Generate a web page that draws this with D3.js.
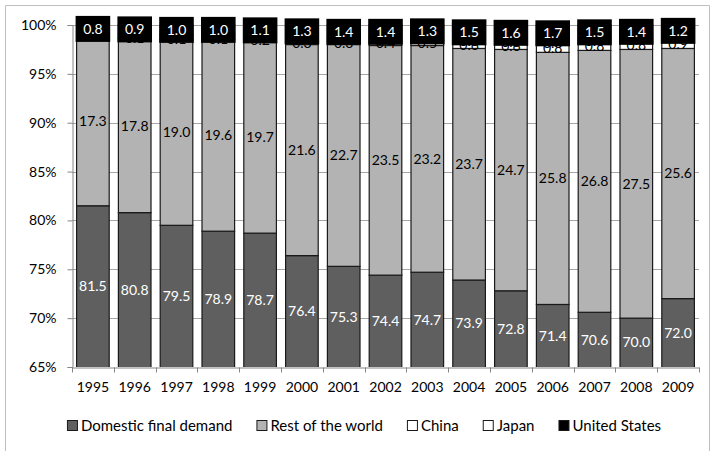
<!DOCTYPE html>
<html>
<head>
<meta charset="utf-8">
<script src="https://cdn.jsdelivr.net/npm/d3@7"></script>
<style>
    body { margin: 0; background: #fff; }
    svg { display: block; font-family: Lato, "Open Sans", sans-serif; }
</style>
</head>
<body>
<svg id="chart" width="714" height="451"></svg>
<script>
    var years = ["1995", "1996", "1997", "1998", "1999", "2000", "2001", "2002",
        "2003", "2004", "2005", "2006", "2007", "2008", "2009"];
    var domestic = [81.5, 80.8, 79.5, 78.9, 78.7, 76.4, 75.3, 74.4, 74.7, 73.9, 72.8, 71.4, 70.6, 70.0, 72.0];
    var restOfWorld = [17.3, 17.8, 19.0, 19.6, 19.7, 21.6, 22.7, 23.5, 23.2, 23.7, 24.7, 25.8, 26.8, 27.5, 25.6];
    var china = [0.1, 0.1, 0.1, 0.1, 0.2, 0.3, 0.3, 0.4, 0.5, 0.6, 0.6, 0.8, 0.8, 0.8, 0.9];
    var japan = [0.3, 0.4, 0.4, 0.4, 0.3, 0.4, 0.3, 0.3, 0.3, 0.3, 0.3, 0.3, 0.3, 0.3, 0.3];
    var unitedStates = [0.8, 0.9, 1.0, 1.0, 1.1, 1.3, 1.4, 1.4, 1.3, 1.5, 1.6, 1.7, 1.5, 1.4, 1.2];
    var seriesNames = ["Domestic final demand", "Rest of the world", "China", "Japan", "United States"];
    var yTicks = [65, 70, 75, 80, 85, 90, 95, 100];

    var fills = ["#5f5f5f", "#b3b3b3", "#ffffff", "#ffffff", "#000000"];
    var labelColors = ["#ffffff", "#000000", "#000000", "#000000", "#ffffff"];

    var svg = d3.select("#chart");
    var plotLeft = 72, plotRight = 699, plotTop = 25, plotBottom = 367;

    // chart border
    svg.append("path")
        .attr("d", "M5.5,451 V5.5 H709.5 V451")
        .attr("fill", "none")
        .attr("stroke", "#bfbfbf");

    var rows = years.map(function (yr, i) {
        return { year: yr, s0: domestic[i], s1: restOfWorld[i], s2: china[i], s3: japan[i], s4: unitedStates[i] };
    });
    var keys = ["s0", "s1", "s2", "s3", "s4"];
    var stacked = d3.stack().keys(keys)(rows);

    var x = d3.scaleBand().domain(years).range([plotLeft, plotRight])
        .paddingInner(0.22).paddingOuter(0.11);
    var y = d3.scaleLinear().domain([65, 100]).range([plotBottom, plotTop]);

    // gridlines
    svg.append("g").selectAll("line").data(yTicks.slice(1)).join("line")
        .attr("x1", plotLeft).attr("x2", plotRight)
        .attr("y1", function (d) { return Math.round(y(d)) + 0.5; })
        .attr("y2", function (d) { return Math.round(y(d)) + 0.5; })
        .attr("stroke", "#a6a6a6");

    svg.append("clipPath").attr("id", "plotClip")
        .append("rect").attr("x", plotLeft).attr("y", 0)
        .attr("width", plotRight - plotLeft).attr("height", plotBottom);

    var bars = svg.append("g").attr("clip-path", "url(#plotClip)");
    stacked.forEach(function (layer, k) {
        bars.append("g").selectAll("rect").data(layer).join("rect")
            .attr("x", function (d) { return x(d.data.year); })
            .attr("y", function (d) { return y(d[1]); })
            .attr("width", x.bandwidth())
            .attr("height", function (d) { return Math.max(0, y(d[0]) - y(d[1])); })
            .attr("fill", fills[k])
            .attr("stroke", "#1a1a1a")
            .attr("stroke-width", 1.2);
    });

    // y axis
    var yAxis = svg.append("g")
        .attr("transform", "translate(" + (plotLeft + 0.5) + ",0)")
        .call(d3.axisLeft(y).tickValues(yTicks).tickSize(5).tickPadding(11)
            .tickFormat(function (d) { return d + "%"; }));
    yAxis.select(".domain").attr("stroke", "#868686");
    yAxis.selectAll(".tick line").attr("stroke", "#868686");
    yAxis.selectAll("text").attr("font-size", 14).attr("fill", "#000")
        .attr("font-family", "Lato, 'Open Sans', sans-serif");

    // x axis
    var xAxis = svg.append("g")
        .attr("transform", "translate(0," + (plotBottom + 0.5) + ")")
        .call(d3.axisBottom(x).tickSize(0).tickPadding(15));
    xAxis.select(".domain").attr("stroke", "#868686");
    xAxis.selectAll("text").attr("font-size", 14).attr("fill", "#000")
        .attr("font-family", "Lato, 'Open Sans', sans-serif");
    var bounds = years.map(function (yr) { return x(yr) - x.step() * x.paddingInner() / 2; });
    bounds.push(plotRight);
    xAxis.selectAll(".bound").data(bounds).join("line")
        .attr("class", "bound")
        .attr("x1", function (d) { return Math.round(d) + 0.5; })
        .attr("x2", function (d) { return Math.round(d) + 0.5; })
        .attr("y1", 0).attr("y2", 5)
        .attr("stroke", "#868686");

    // data labels
    var labels = svg.append("g").attr("font-size", 14).attr("text-anchor", "middle");
    stacked.forEach(function (layer, k) {
        var g = labels.append("g");
        layer.forEach(function (d) {
            var lo = Math.max(65, d[0]);
            var cy = (y(lo) + y(d[1])) / 2;
            var cx = x(d.data.year) + x.bandwidth() / 2;
            if (k === 4) {
                g.append("rect")
                    .attr("x", cx - x.bandwidth() / 2 - 1)
                    .attr("y", cy - 13)
                    .attr("width", x.bandwidth() + 2)
                    .attr("height", 26)
                    .attr("fill", "#000");
            }
            g.append("text")
                .attr("x", cx)
                .attr("y", cy)
                .attr("dy", "0.35em")
                .attr("fill", labelColors[k])
                .text(d3.format(".1f")(d[1] - d[0]));
        });
    });

    // legend
    var legend = svg.append("g").attr("font-size", 15);
    var lx = 0;
    var items = [];
    seriesNames.forEach(function (name, k) {
        var item = legend.append("g").attr("transform", "translate(" + lx + ",0)");
        item.append("rect")
            .attr("x", 0.5).attr("y", -5.5)
            .attr("width", 10).attr("height", 10)
            .attr("fill", fills[k])
            .attr("stroke", "#1a1a1a");
        var t = item.append("text").attr("x", 14).attr("y", 0).attr("dy", "0.35em").text(name);
        var w = t.node().getComputedTextLength();
        lx += 14 + w + 24;
        items.push(item);
    });
    var legendWidth = lx - 24;
    legend.attr("transform", "translate(" + (364 - legendWidth / 2) + ",426)");
</script>
</body>
</html>
